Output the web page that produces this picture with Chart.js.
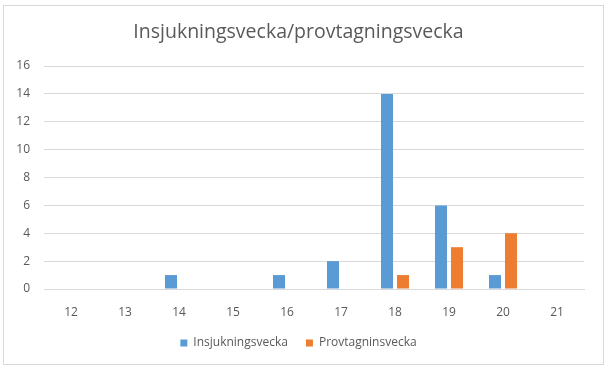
<!DOCTYPE html>
<html>
<head>
<meta charset="utf-8">
<script src="https://cdn.jsdelivr.net/npm/chart.js@4.4.1/dist/chart.umd.min.js"></script>
<style>
  html, body { margin: 0; padding: 0; background: #fff; }
  #frame { position: absolute; left: 3px; top: 5px; width: 599px; height: 358px; border: 1px solid #d9d9d9; }
  #wrap { position: absolute; left: 0; top: 0; width: 610px; height: 371px; }
</style>
</head>
<body>
<div id="frame"></div>
<div id="wrap"><canvas id="chart" width="610" height="371"></canvas></div>
<script>
// week numbers on the x axis
const weeks = ["12", "13", "14", "15", "16", "17", "18", "19", "20", "21"];
// cases per week
const insjukning = [0, 0, 1, 0, 1, 2, 14, 6, 1, 0];
const provtagning = [0, 0, 0, 0, 0, 0, 1, 3, 4, 0];
const yTicks = [0, 2, 4, 6, 8, 10, 12, 14, 16];

const textColor = "#595959";
const gridColor = "#d9d9d9";
const fontFamily = "'Open Sans', 'Noto Sans', sans-serif";

new Chart(document.getElementById("chart"), {
  type: "bar",
  data: {
    labels: weeks,
    datasets: [
      {
        label: "Insjukningsvecka",
        data: insjukning,
        backgroundColor: "#5B9BD5",
        categoryPercentage: 0.593,
        barPercentage: 0.75
      },
      {
        label: "Provtagninsvecka",
        data: provtagning,
        backgroundColor: "#ED7D31",
        categoryPercentage: 0.593,
        barPercentage: 0.75
      }
    ]
  },
  options: {
    responsive: false,
    animation: false,
    layout: { padding: { left: 0, right: 13, top: 0, bottom: 12 } },
    plugins: {
      title: {
        display: true,
        text: "Insjukningsvecka/provtagningsvecka",
        color: textColor,
        font: { family: fontFamily, size: 19.5, weight: "normal" },
        padding: { top: 21, bottom: 21.6 }
      },
      legend: {
        position: "bottom",
        labels: {
          color: textColor,
          font: { family: fontFamily, size: 12 },
          boxWidth: 7,
          boxHeight: 7,
          padding: 18
        }
      },
      tooltip: { enabled: false }
    },
    scales: {
      x: {
        grid: { display: false },
        border: { color: gridColor },
        ticks: { color: textColor, font: { family: fontFamily, size: 12 }, padding: 8 },
        afterFit: (s) => { s.height = 30; }
      },
      y: {
        min: 0,
        max: 16,
        afterBuildTicks: (s) => { s.ticks = yTicks.map(v => ({ value: v })); },
        grid: { color: gridColor, drawTicks: false },
        border: { display: false },
        ticks: { color: textColor, font: { family: fontFamily, size: 12 }, padding: 14 },
        afterFit: (s) => { s.width = 44; }
      },
      // empty spacer on the right, keeps the plot narrower than the frame
      y2: {
        position: "right",
        min: 0,
        max: 16,
        grid: { display: false },
        border: { display: false },
        ticks: { display: false },
        afterFit: (s) => { s.width = 13; }
      }
    }
  }
});
</script>
</body>
</html>
